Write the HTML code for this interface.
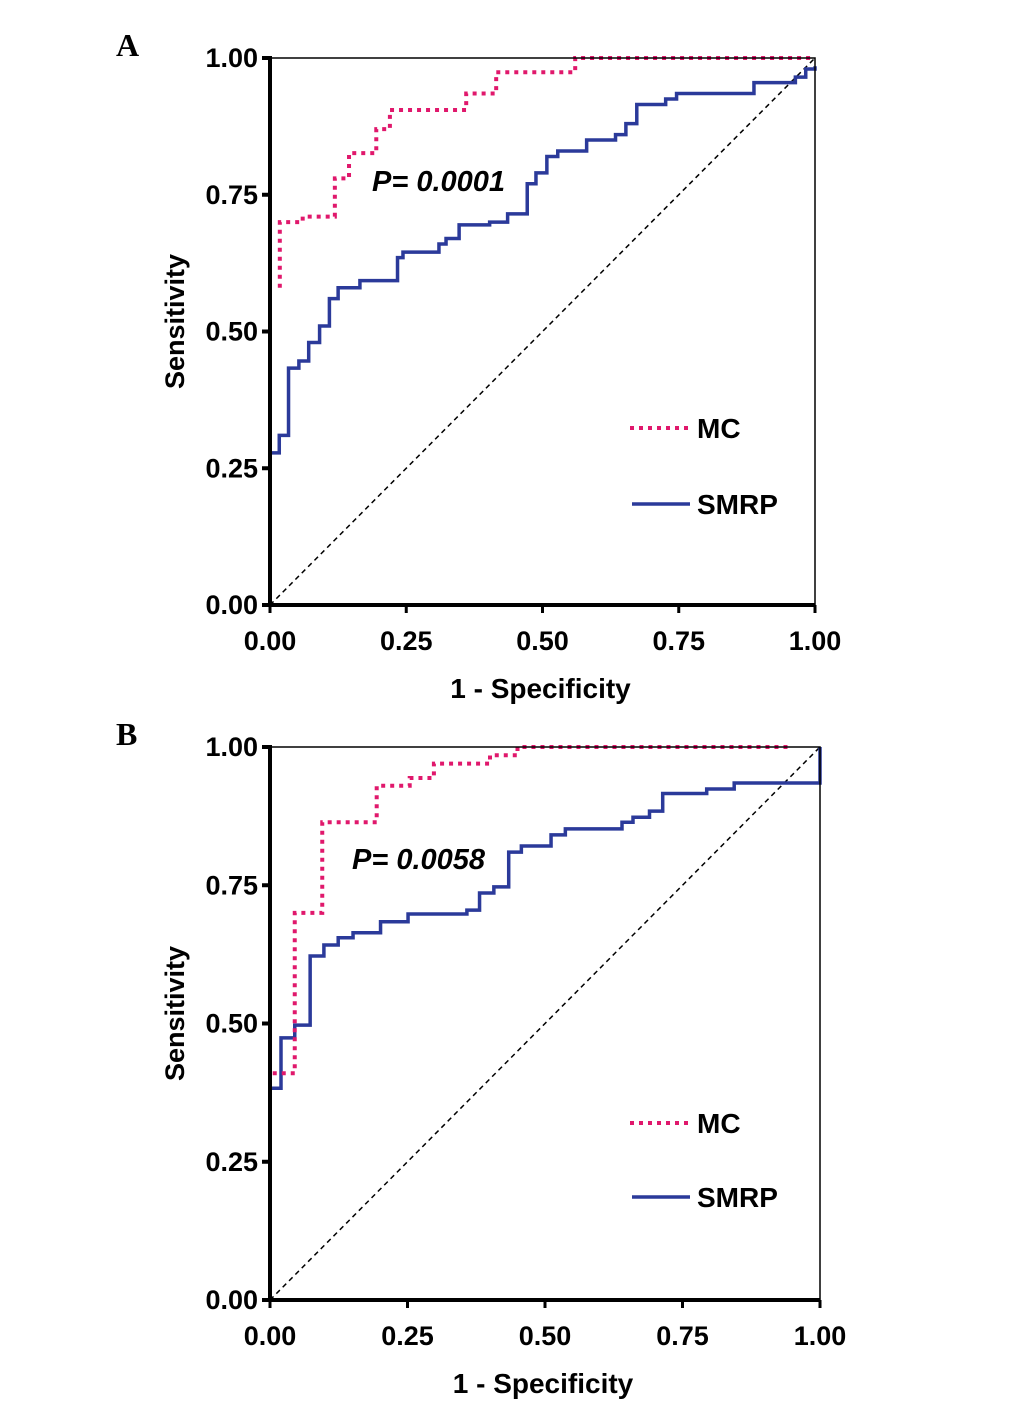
<!DOCTYPE html>
<html><head><meta charset="utf-8"><style>
body{margin:0;background:#fff;width:1033px;height:1401px;overflow:hidden}
svg{position:absolute;left:0;top:0}
text{font-family:"Liberation Sans",Arial,sans-serif;font-weight:bold;fill:#000}
</style></head><body>
<svg id="chart" width="1033" height="1401"></svg>
<script>
const ticks=[0,0.25,0.5,0.75,1];
const tickLabels=["0.00","0.25","0.50","0.75","1.00"];
const mcA_fpr=[0.018,0.018,0.06,0.119,0.119,0.145,0.195,0.22,0.36,0.415,0.56,1.0];
const mcA_tpr=[0.58,0.70,0.71,0.72,0.78,0.826,0.87,0.905,0.935,0.974,1.0,1.0];
const smA_fpr=[0,0.017,0.034,0.053,0.071,0.091,0.109,0.125,0.165,0.234,0.244,0.31,0.323,0.347,0.403,0.436,0.472,0.488,0.508,0.528,0.581,0.634,0.653,0.673,0.726,0.746,0.888,0.964,0.983,1.0];
const smA_tpr=[0.278,0.31,0.433,0.446,0.48,0.51,0.56,0.58,0.593,0.635,0.645,0.66,0.67,0.695,0.70,0.715,0.77,0.79,0.82,0.83,0.85,0.86,0.88,0.915,0.925,0.935,0.955,0.965,0.98,0.985];
const mcB_fpr=[0.005,0.045,0.095,0.194,0.254,0.298,0.40,0.45,0.947];
const mcB_tpr=[0.41,0.70,0.864,0.93,0.944,0.97,0.985,1.0,1.0];
const smB_fpr=[0,0.02,0.045,0.073,0.098,0.124,0.151,0.201,0.251,0.358,0.381,0.407,0.434,0.457,0.511,0.537,0.64,0.66,0.69,0.714,0.794,0.844,1.0,1.0];
const smB_tpr=[0.383,0.474,0.497,0.622,0.642,0.655,0.664,0.684,0.698,0.705,0.736,0.747,0.81,0.821,0.841,0.852,0.864,0.873,0.884,0.916,0.924,0.935,0.935,1.0];

const NS="http://www.w3.org/2000/svg";
const svg=document.getElementById('chart');
function mk(tag,attrs,parent,txt){const e=document.createElementNS(NS,tag);for(const k in attrs)e.setAttribute(k,attrs[k]);if(txt!==undefined)e.textContent=txt;(parent||svg).appendChild(e);return e;}

function panel(id,letter,x0,x1,yTop,yBot,mcF,mcT,smF,smT,pText,pX,pY,legMC,legSM){
  const g=mk('g',{});
  
  
  const sx=v=>x0+v*(x1-x0), sy=v=>yBot-v*(yBot-yTop);
  const L=mk('text',{x:116,y:yTop-2,'font-size':32,style:'font-family:"Liberation Serif",serif'},g,letter);
  
  
  const d=mk('line',{x1:sx(0),y1:sy(0),x2:sx(1),y2:sy(1),stroke:'#000','stroke-width':1.5,'stroke-dasharray':'5,4'},g);
  
  
  function step(F,T){let p='M'+sx(F[0])+','+sy(T[0]);for(let i=1;i<F.length;i++){p+=' H'+sx(F[i])+' V'+sy(T[i]);}return p;}
  const sm=mk('path',{d:step(smF,smT),fill:'none',stroke:'#2b3a9a','stroke-width':3.5},g);
  
  
  const mc=mk('path',{d:step(mcF,mcT),fill:'none',stroke:'#e0186c','stroke-width':4,'stroke-dasharray':'4,5'},g);
  
  
  const fr=mk('rect',{x:x0,y:yTop,width:x1-x0,height:yBot-yTop,fill:'none',stroke:'#000','stroke-width':1.5},g);
  
  
  const ya=mk('line',{x1:x0,y1:yTop-2,x2:x0,y2:yBot+2,stroke:'#000','stroke-width':4},g);
  
  
  const xa=mk('line',{x1:x0-2,y1:yBot,x2:x1,y2:yBot,stroke:'#000','stroke-width':4},g);
  
  
  ticks.forEach((t,i)=>{
    mk('line',{x1:x0-8,y1:sy(t),x2:x0,y2:sy(t),stroke:'#000','stroke-width':4},g);
    const yl=mk('text',{x:258,y:sy(t)+9,'font-size':27,'text-anchor':'end'},g,tickLabels[i]);
    
    
    mk('line',{x1:sx(t),y1:yBot,x2:sx(t),y2:yBot+8,stroke:'#000','stroke-width':3},g);
    const xl=mk('text',{x:sx(t),y:yBot+45,'font-size':27,'text-anchor':'middle'},g,tickLabels[i]);
    
    
  });
  const yt=mk('text',{x:0,y:0,'font-size':27,'text-anchor':'middle',transform:`translate(184,${(yTop+yBot)/2-10}) rotate(-90)`},g,'Sensitivity');
  
  
  const xt=mk('text',{x:(x0+x1)/2-2,y:yBot+93,'font-size':28,'text-anchor':'middle'},g,'1 - Specificity');
  
  
  const pt=mk('text',{x:pX,y:pY,'font-size':29,'font-style':'italic'},g,pText);
  
  
  const l1=mk('line',{x1:630,y1:legMC,x2:690,y2:legMC,stroke:'#e0186c','stroke-width':4,'stroke-dasharray':'4,5'},g);
  
  
  const t1=mk('text',{x:697,y:legMC+10,'font-size':28},g,'MC');
  
  
  const l2=mk('line',{x1:632,y1:legSM,x2:690,y2:legSM,stroke:'#2b3a9a','stroke-width':3.5},g);
  
  
  const t2=mk('text',{x:697,y:legSM+10,'font-size':28},g,'SMRP');
  
  
}
panel('a','A',270,815,58,605,mcA_fpr,mcA_tpr,smA_fpr,smA_tpr,'P= 0.0001',372,191,428,504);
panel('b','B',270,820,747,1300,mcB_fpr,mcB_tpr,smB_fpr,smB_tpr,'P= 0.0058',352,869,1123,1197);
</script>
</body></html>
